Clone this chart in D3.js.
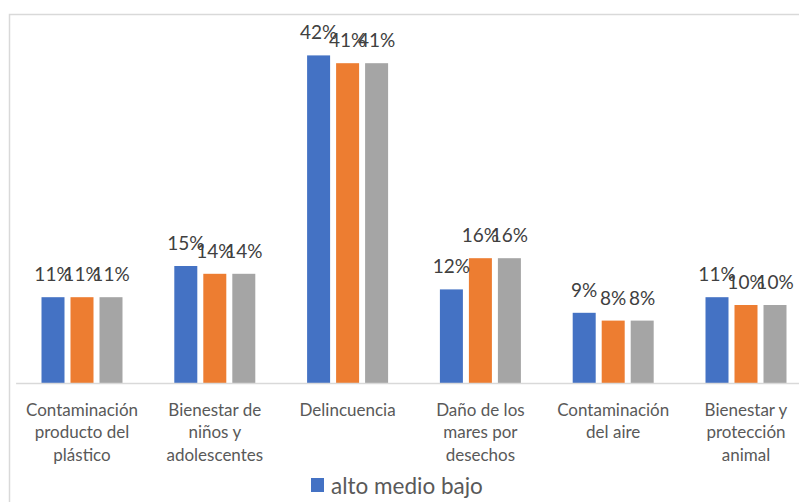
<!DOCTYPE html>
<html>
<head>
<meta charset="utf-8">
<script src="https://cdn.jsdelivr.net/npm/d3@7"></script>
<style>
  html, body { margin: 0; padding: 0; background: #fff; }
  svg { display: block; }
</style>
</head>
<body>
<svg id="chart" width="799" height="502"></svg>
<script>
// Categories (line breaks mark the wrapped axis labels)
const categories = [
  "Contaminación\nproducto del\nplástico",
  "Bienestar de\nniños y\nadolescentes",
  "Delincuencia",
  "Daño de los\nmares por\ndesechos",
  "Contaminación\ndel aire",
  "Bienestar y\nprotección\nanimal"
];
const seriesNames = ["alto", "medio", "bajo"];
const alto  = [11, 15, 42, 12, 9, 11];
const medio = [11, 14, 41, 16, 8, 10];
const bajo  = [11, 14, 41, 16, 8, 10];
const seriesColors = ["#4472C4", "#ED7D31", "#A5A5A5"];
const legendLabels = ["alto medio bajo"];

const seriesValues = [alto, medio, bajo];
const rows = categories.map((c, i) => ({
  cat: c,
  vals: seriesNames.map((s, j) => ({ key: s, value: seriesValues[j][i], color: seriesColors[j] }))
}));

const svg = d3.select("#chart");
const FONT = "Lato, 'Open Sans', 'DejaVu Sans', sans-serif";

// chart frame
svg.append("rect")
  .attr("x", 9.5).attr("y", 14.5)
  .attr("width", 820).attr("height", 520)
  .attr("fill", "none").attr("stroke", "#d9d9d9").attr("stroke-width", 1.5);

const baseY = 383;
const x0 = d3.scaleBand().domain(categories).range([15.6, 812.4]).padding(0);
const x1 = d3.scaleBand().domain(seriesNames).range([-40.5, 40.5]).paddingInner(6 / 29).paddingOuter(0);
const y = d3.scaleLinear().domain([0, 45]).range([baseY, 32]);

const groups = svg.append("g").selectAll("g")
  .data(rows).join("g")
  .attr("transform", d => `translate(${x0(d.cat) + x0.bandwidth() / 2},0)`);

groups.selectAll("rect")
  .data(d => d.vals).join("rect")
  .attr("x", d => x1(d.key))
  .attr("y", d => y(d.value))
  .attr("width", x1.bandwidth())
  .attr("height", d => y(0) - y(d.value))
  .attr("fill", d => d.color);

groups.selectAll("text.lbl")
  .data(d => d.vals).join("text")
  .attr("class", "lbl")
  .attr("x", d => x1(d.key) + x1.bandwidth() / 2)
  .attr("y", d => y(d.value) - 16)
  .attr("text-anchor", "middle")
  .attr("font-family", FONT)
  .attr("font-size", 19)
  .attr("fill", "#404040")
  .text(d => d.value + "%");

// category axis
const xAxis = d3.axisBottom(x0).tickSize(0).tickFormat("");
const axisG = svg.append("g").attr("transform", `translate(0,${baseY})`).call(xAxis);
axisG.select(".domain").attr("stroke", "#d9d9d9").attr("stroke-width", 1.5);

const catLabels = svg.append("g").selectAll("text")
  .data(categories).join("text")
  .attr("x", d => x0(d) + x0.bandwidth() / 2)
  .attr("y", 415)
  .attr("text-anchor", "middle")
  .attr("font-family", FONT)
  .attr("font-size", 17)
  .attr("fill", "#595959");
catLabels.each(function (d) {
  const t = d3.select(this);
  d.split("\n").forEach((line, i) => {
    t.append("tspan")
      .attr("x", x0(d) + x0.bandwidth() / 2)
      .attr("y", 415.5 + i * 22.5)
      .text(line);
  });
});

// legend
const legend = svg.append("g").attr("transform", "translate(311,478)");
legendLabels.forEach((lab, i) => {
  legend.append("rect")
    .attr("x", 0).attr("y", 0).attr("width", 13).attr("height", 14)
    .attr("fill", seriesColors[i]);
  legend.append("text")
    .attr("x", 20).attr("y", 15.5)
    .attr("font-family", FONT)
    .attr("font-size", 22.5)
    .attr("fill", "#595959")
    .text(lab);
});
</script>
</body>
</html>
